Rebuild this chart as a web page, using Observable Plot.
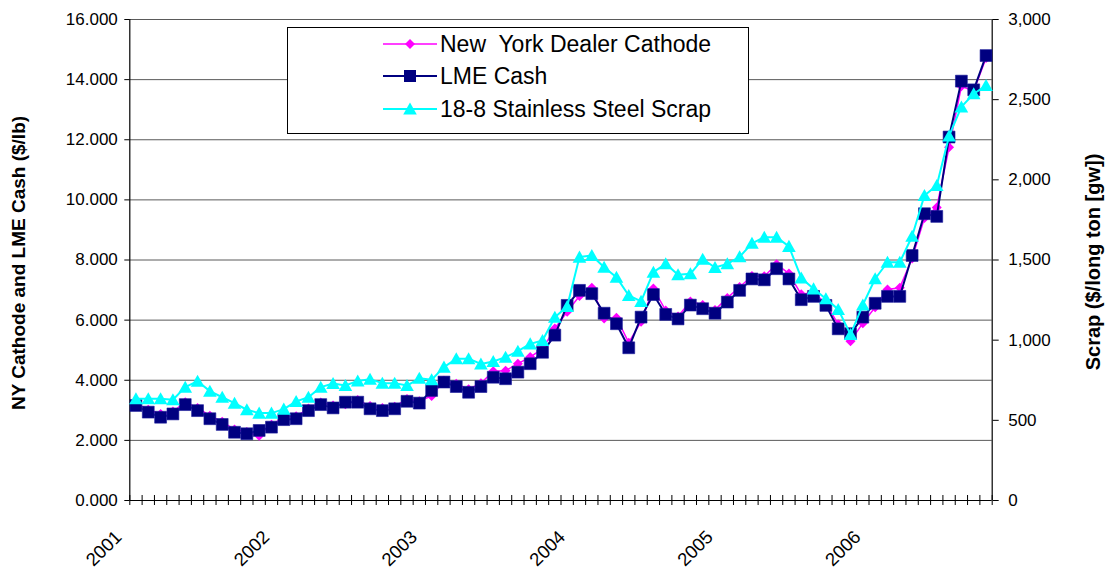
<!DOCTYPE html>
<html>
<head>
<meta charset="utf-8">
<script src="https://cdn.jsdelivr.net/npm/d3@7"></script>
<script src="https://cdn.jsdelivr.net/npm/@observablehq/plot@0.6"></script>
<style>
  html, body { margin: 0; padding: 0; background: #fff; }
  #wrap { position: relative; width: 1111px; height: 576px; font-family: "Liberation Sans", Arial, sans-serif; }
  #legend { position: absolute; left: 287px; top: 27px; width: 462px; height: 107px; border: 1px solid #000; background: #fff; box-sizing: border-box; }
  .row { position: absolute; left: 95px; height: 30px; display: flex; align-items: center; font-size: 23px; color: #000; white-space: pre; }
  .row svg { margin-right: 3px; }
</style>
</head>
<body>
<div id="wrap"></div>
<script>
// ---- Data (monthly, Jan 2001 – Oct 2006) ----
const years = ["2001", "2002", "2003", "2004", "2005", "2006"];

const lme2001 = [3.16, 2.94, 2.77, 2.88, 3.19, 2.99, 2.72, 2.53, 2.27, 2.22, 2.33, 2.44];
const lme2002 = [2.69, 2.72, 2.99, 3.19, 3.08, 3.27, 3.27, 3.05, 2.99, 3.05, 3.30, 3.24];
const lme2003 = [3.66, 3.94, 3.79, 3.60, 3.79, 4.10, 4.05, 4.27, 4.55, 4.93, 5.50, 6.49];
const lme2004 = [6.99, 6.88, 6.23, 5.88, 5.08, 6.10, 6.85, 6.19, 6.04, 6.50, 6.38, 6.23];
const lme2005 = [6.60, 6.99, 7.37, 7.34, 7.71, 7.37, 6.68, 6.79, 6.49, 5.71, 5.55, 6.10];
const lme2006 = [6.56, 6.79, 6.79, 8.15, 9.54, 9.45, 12.09, 13.95, 13.66, 14.80];

const ny2001 = [3.24, 3.02, 2.88, 2.96, 3.27, 3.08, 2.82, 2.62, 2.36, 2.28, 2.15, 2.52];
const ny2002 = [2.76, 2.80, 3.06, 3.26, 3.16, 3.20, 3.34, 3.14, 3.08, 3.12, 3.38, 3.30];
const ny2003 = [3.48, 3.98, 3.88, 3.70, 3.90, 4.30, 4.32, 4.55, 4.77, 5.05, 5.72, 6.28];
const ny2004 = [6.80, 7.08, 6.05, 6.08, 5.25, 5.95, 7.05, 6.32, 6.12, 6.62, 6.50, 6.34];
const ny2005 = [6.74, 7.10, 7.47, 7.46, 7.86, 7.55, 6.86, 6.92, 6.56, 5.86, 5.30, 5.90];
const ny2006 = [6.43, 7.02, 7.08, 8.05, 9.40, 9.75, 11.75, 13.78, 13.62, 14.72];

const scrap2001 = [634, 634, 634, 628, 707, 744, 682, 644, 607, 566, 545, 545];
const scrap2002 = [570, 618, 644, 707, 730, 717, 746, 757, 732, 732, 717, 762];
const scrap2003 = [753, 832, 884, 884, 852, 867, 894, 931, 977, 998, 1143, 1210];
const scrap2004 = [1518, 1528, 1455, 1393, 1279, 1242, 1424, 1476, 1408, 1414, 1505, 1453];
const scrap2005 = [1476, 1520, 1604, 1642, 1642, 1585, 1388, 1320, 1258, 1192, 1035, 1220];
const scrap2006 = [1383, 1486, 1486, 1648, 1902, 1965, 2274, 2455, 2537, 2588];

const leftTicks = [0, 2, 4, 6, 8, 10, 12, 14, 16];
const rightTicks = [0, 500, 1000, 1500, 2000, 2500, 3000];
const seriesNames = ["New  York Dealer Cathode", "LME Cash", "18-8 Stainless Steel Scrap"];
const colors = {ny: "#FF00FF", lme: "#000080", scrap: "#00FFFF"};

// ---- Build table ----
const lme = [].concat(lme2001, lme2002, lme2003, lme2004, lme2005, lme2006);
const ny = [].concat(ny2001, ny2002, ny2003, ny2004, ny2005, ny2006);
const scrap = [].concat(scrap2001, scrap2002, scrap2003, scrap2004, scrap2005, scrap2006);
const months = d3.utcMonths(new Date(Date.UTC(2001, 0, 1)), new Date(Date.UTC(2006, 10, 1)));
const nCat = months.length; // 70 categories
const k = 16 / 3000; // right axis -> left axis units
const rows = months.map((m, i) => ({month: m, pos: i + 0.5, ny: ny[i], lme: lme[i], scrapY: scrap[i] * k}));
const boundaries = d3.range(nCat + 1);

// ---- Custom Excel-like symbols ----
const diamond = {draw(ctx, size) { const r = Math.sqrt(size / Math.PI); ctx.moveTo(0, -r); ctx.lineTo(r, 0); ctx.lineTo(0, r); ctx.lineTo(-r, 0); ctx.closePath(); }};
const triangle = {draw(ctx, size) { const r = Math.sqrt(size / Math.PI); ctx.moveTo(0, -r); ctx.lineTo(r * 1.05, r * 0.85); ctx.lineTo(-r * 1.05, r * 0.85); ctx.closePath(); }};

const fmtL = d3.format(".3f");
const fmtR = d3.format(",");

const chart = Plot.plot({
  width: 1111,
  height: 576,
  marginLeft: 129.3,
  marginRight: 119.3,
  marginTop: 19,
  marginBottom: 76,
  x: {domain: [0, nCat], axis: null},
  y: {domain: [0, 16]},
  style: {fontFamily: "'Liberation Sans', Arial, sans-serif", fontSize: "17px", background: "white", color: "black", overflow: "visible"},
  marks: [
    Plot.ruleY(leftTicks.slice(1), {stroke: "#5a5a5a", strokeWidth: 1}),
    Plot.axisY({anchor: "left", ticks: leftTicks, tickFormat: fmtL, tickSize: 5, tickPadding: 7, label: null, fontSize: 17, stroke: "black"}),
    Plot.axisY({anchor: "right", ticks: rightTicks.map(v => v * k), tickFormat: d => fmtR(Math.round(d / k)), tickSize: 6, tickPadding: 10, label: null, fontSize: 17, stroke: "black"}),
    Plot.ruleX(boundaries, {x: d => d, y1: 0, y2: 0, insetTop: -5, insetBottom: -5, stroke: "black"}),
    Plot.ruleX([0, nCat], {stroke: "black", strokeWidth: 1.2}),
    Plot.ruleY([0], {stroke: "black", strokeWidth: 1.2}),
    Plot.text(years, {x: (d, i) => i * 12 + 0.5, frameAnchor: "bottom", dx: -32, dy: 48, rotate: -45, textAnchor: "middle", lineAnchor: "middle", fontSize: 18.5}),
    Plot.text(["NY Cathode and LME Cash ($/lb)"], {frameAnchor: "left", dx: -111, dy: 3, rotate: -90, textAnchor: "middle", lineAnchor: "middle", fontWeight: "bold", fontSize: 19}),
    Plot.text(["Scrap ($/long ton [gw])"], {frameAnchor: "right", dx: 101, dy: 2, rotate: -90, textAnchor: "middle", lineAnchor: "middle", fontWeight: "bold", fontSize: 20}),
    // NY dealer cathode
    Plot.line(rows, {x: "pos", y: "ny", stroke: colors.ny, strokeWidth: 1.5}),
    Plot.dot(rows, {x: "pos", y: "ny", symbol: diamond, r: 5, fill: colors.ny, stroke: "none"}),
    // LME cash
    Plot.line(rows, {x: "pos", y: "lme", stroke: colors.lme, strokeWidth: 2}),
    Plot.dot(rows, {x: "pos", y: "lme", symbol: "square", r: 6.7, fill: colors.lme, stroke: "#1a1a9a", strokeWidth: 0.6}),
    // Scrap (right axis)
    Plot.line(rows, {x: "pos", y: "scrapY", stroke: colors.scrap, strokeWidth: 2}),
    Plot.dot(rows, {x: "pos", y: "scrapY", symbol: triangle, r: 6.5, fill: colors.scrap, stroke: "none"})
  ]
});

const wrap = document.getElementById("wrap");
wrap.appendChild(chart);

// ---- Legend (inside plot area) ----
const legend = document.createElement("div");
legend.id = "legend";
const swatch = (kind) => {
  const c = kind === 0 ? colors.ny : kind === 1 ? colors.lme : colors.scrap;
  let marker;
  if (kind === 0) marker = `<path d="M27,5 L32,10 L27,15 L22,10 Z" fill="${c}"/>`;
  else if (kind === 1) marker = `<rect x="21" y="4" width="12" height="12" fill="${c}"/>`;
  else marker = `<path d="M27,3.5 L33.8,15.5 L20.2,15.5 Z" fill="${c}"/>`;
  return `<svg width="54" height="20"><line x1="0" y1="10" x2="54" y2="10" stroke="${c}" stroke-width="${kind === 0 ? 1.5 : 2}"/>${marker}</svg>`;
};
const rowTops = [1, 33, 66];
seriesNames.forEach((name, i) => {
  const r = document.createElement("div");
  r.className = "row";
  r.style.top = rowTops[i] + "px";
  r.innerHTML = swatch(i) + `<span>${name}</span>`;
  legend.appendChild(r);
});
wrap.appendChild(legend);
</script>
</body>
</html>
